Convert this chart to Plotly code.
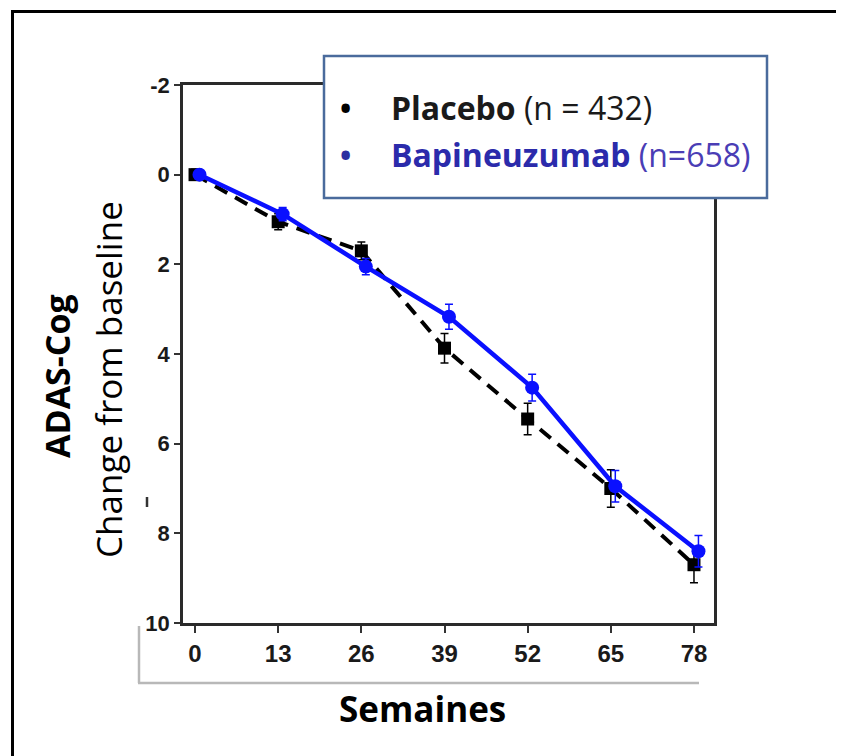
import plotly.graph_objects as go

# ---- data ----
weeks = [0, 13, 26, 39, 52, 65, 78]
placebo_mean = [0.0, 1.05, 1.7, 3.87, 5.45, 7.0, 8.7]
placebo_err = [0.12, 0.18, 0.2, 0.33, 0.35, 0.42, 0.4]
bapi_mean = [0.0, 0.88, 2.05, 3.17, 4.75, 6.95, 8.4]
bapi_err = [0.1, 0.15, 0.18, 0.28, 0.3, 0.35, 0.35]
y_ticks = [-2, 0, 2, 4, 6, 8, 10]
x_ticks = [0, 13, 26, 39, 52, 65, 78]
bapi_dodge = 0.7  # small horizontal dodge used in the original figure

# page has an 8px body margin; design in screen pixels
OFF = 8
W, H = 844 - OFF, 756 - OFF
L, R, T, B = 183, 714, 85, 623  # plot area in screen pixels


def px(xp):
    return (xp - L) / (R - L)


def py(yp):
    return (B - yp) / (B - T)


fig = go.Figure()

fig.add_trace(go.Scatter(
    x=weeks, y=placebo_mean, mode="lines+markers", name="Placebo",
    line=dict(color="black", width=4, dash="14px,9px"),
    marker=dict(symbol="square", size=13, color="black"),
    error_y=dict(type="data", array=placebo_err, color="black", thickness=1.5, width=4),
    showlegend=False,
))
fig.add_trace(go.Scatter(
    x=[w + bapi_dodge for w in weeks], y=bapi_mean, mode="lines+markers", name="Bapineuzumab",
    line=dict(color="#0a10ff", width=4.5),
    marker=dict(symbol="circle", size=14, color="#0a10ff"),
    error_y=dict(type="data", array=bapi_err, color="#0a10ff", thickness=1.5, width=4),
    showlegend=False,
))

fig.update_xaxes(
    range=[-1.88, 81.13], tickmode="array", tickvals=x_ticks,
    ticktext=[str(v) for v in x_ticks],
    showline=True, linecolor="#2a2a2a", linewidth=2.5, mirror=True,
    ticks="outside", ticklen=7, tickwidth=2, tickcolor="#333",
    showgrid=False, zeroline=False,
    tickfont=dict(family="Liberation Sans Narrow, Arial Narrow, Liberation Sans", size=24,
                  color="#1a1a1a", weight="bold"),
)
fig.update_yaxes(
    range=[10, -2], tickmode="array", tickvals=y_ticks,
    ticktext=[str(v) for v in y_ticks],
    showline=True, linecolor="#2a2a2a", linewidth=2.5, mirror=True,
    ticks="outside", ticklen=6, tickwidth=2, tickcolor="#333",
    showgrid=False, zeroline=False,
    tickfont=dict(family="Liberation Sans, Arial", size=22, color="#1a1a1a", weight="bold"),
)

shapes = []
# outer frame (left, top)
shapes.append(dict(type="line", xref="paper", yref="paper", x0=px(12.5), x1=px(12.5), y0=py(10), y1=py(770),
                   line=dict(color="black", width=3)))
shapes.append(dict(type="line", xref="paper", yref="paper", x0=px(11), x1=px(850), y0=py(11.5), y1=py(11.5),
                   line=dict(color="black", width=3)))
# grey bracket under the x axis
shapes.append(dict(type="line", xref="paper", yref="paper", x0=px(139), x1=px(139), y0=py(626), y1=py(683),
                   line=dict(color="#b8b8b8", width=2.5)))
shapes.append(dict(type="line", xref="paper", yref="paper", x0=px(138), x1=px(699), y0=py(683), y1=py(683),
                   line=dict(color="#b8b8b8", width=2.5)))
# stray mark
shapes.append(dict(type="line", xref="paper", yref="paper", x0=px(147), x1=px(147), y0=py(497), y1=py(507),
                   line=dict(color="#333", width=2.5)))
# legend box
shapes.append(dict(type="rect", xref="paper", yref="paper", x0=px(324), x1=px(767), y0=py(198), y1=py(56),
                   line=dict(color="#4a6b9c", width=2.5), fillcolor="white", layer="above"))

txt = "Open Sans"
ann = []
ann.append(dict(text="<b>•</b>", x=px(345), y=py(108), xref="paper", yref="paper", showarrow=False,
                font=dict(family=txt, size=30, color="black"), xanchor="center", yanchor="middle"))
ann.append(dict(text="<b>Placebo</b> (n = 432)", x=px(389), y=py(108), xref="paper", yref="paper", showarrow=False,
                font=dict(family=txt, size=32, color="#1a1a1a"), xanchor="left", yanchor="middle"))
ann.append(dict(text="<b>•</b>", x=px(345), y=py(154), xref="paper", yref="paper", showarrow=False,
                font=dict(family=txt, size=30, color="#2e2ea0"), xanchor="center", yanchor="middle"))
ann.append(dict(text="<b><span style='color:#2b2bab'>Bapineuzumab</span></b> <span style='color:#4a3db5'>(n=658)</span>",
                x=px(389), y=py(154), xref="paper", yref="paper", showarrow=False,
                font=dict(family=txt, size=32, color="#2b2bab"), xanchor="left", yanchor="middle"))
# axis titles
ann.append(dict(text="<b>ADAS-Cog</b>", x=px(57), y=py(376), xref="paper", yref="paper", showarrow=False,
                textangle=-90, font=dict(family=txt, size=34, color="black"), xanchor="center", yanchor="middle"))
ann.append(dict(text="Change from baseline", x=px(108), y=py(380), xref="paper", yref="paper", showarrow=False,
                textangle=-90, font=dict(family=txt, size=35, color="black"), xanchor="center", yanchor="middle"))
ann.append(dict(text="<b>Semaines</b>", x=px(422), y=py(708), xref="paper", yref="paper", showarrow=False,
                font=dict(family=txt, size=35, color="black"), xanchor="center", yanchor="middle"))

fig.update_layout(
    width=W, height=H,
    margin=dict(l=L - OFF, r=W - (R - OFF), t=T - OFF, b=H - (B - OFF)),
    paper_bgcolor="white", plot_bgcolor="white",
    shapes=shapes, annotations=ann,
)

fig.write_html("out.html")
